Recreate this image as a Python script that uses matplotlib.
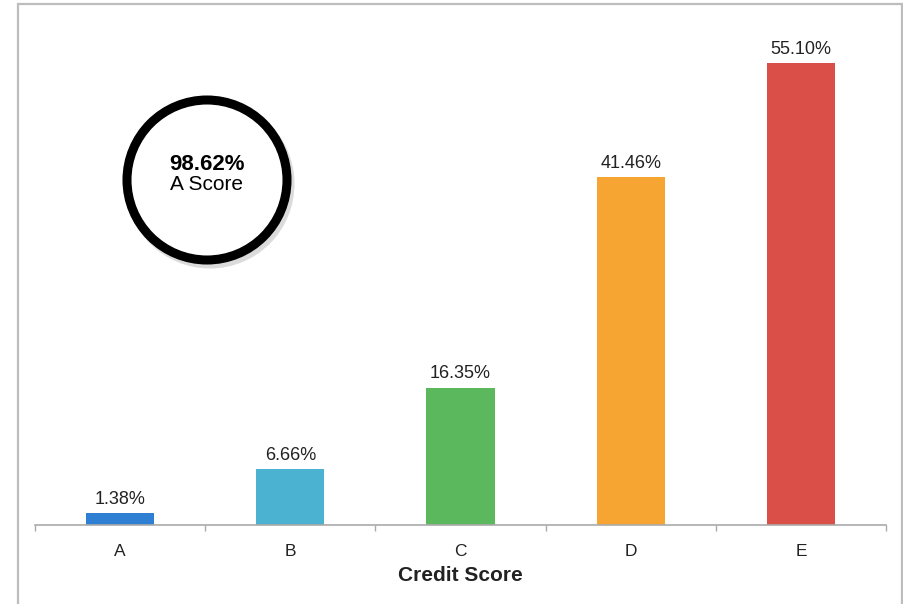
import matplotlib
matplotlib.use("Agg")
import matplotlib.pyplot as plt
from matplotlib.patches import Circle, Rectangle

plt.rcParams["font.family"] = ["Liberation Sans", "DejaVu Sans"]

grades = ["A", "B", "C", "D", "E"]
default_rate = [1.38, 6.66, 16.35, 41.46, 55.10]
bar_colors = ["#2f7fd2", "#4bb2d2", "#5cb85c", "#f6a532", "#db4f49"]
highlight_value = "98.62%"
highlight_label = "A Score"

fig = plt.figure(figsize=(9.04, 6.04), dpi=100)
ax = fig.add_axes([35 / 904, 79 / 604, 851 / 904, 503 / 604])

x = range(len(grades))
bars = ax.bar(x, default_rate, width=0.4, color=bar_colors)
for b, v in zip(bars, default_rate):
    ax.annotate(f"{v:.2f}%", (b.get_x() + b.get_width() / 2, v), xytext=(0, 4),
                textcoords="offset points", ha="center", va="bottom", fontsize=13, color="#222")

ax.set_xlim(-0.5, len(grades) - 0.5)
ax.set_ylim(0, 60)
ax.set_xticks(list(x))
ax.set_xticklabels(grades, fontsize=12.5, color="#222")
ax.set_xticks([i - 0.5 for i in range(len(grades) + 1)], minor=True)
ax.tick_params(axis="x", which="major", length=0, pad=14)
ax.tick_params(axis="x", which="minor", length=4, width=1, color="#aaa")
ax.set_yticks([])
for s in ("top", "right", "left"):
    ax.spines[s].set_visible(False)
ax.spines["bottom"].set_color("#aaa")
ax.spines["bottom"].set_linewidth(1.2)
ax.set_xlabel("Credit Score", fontsize=15, fontweight="bold", color="#222", labelpad=5)

# outer frame (open at the bottom edge)
fig.add_artist(Rectangle((18 / 904, -0.02), 884 / 904, 1.02 - 4 / 604, transform=fig.transFigure,
                         fill=False, edgecolor="#bdbdbd", linewidth=1.6))

# score badge
cx, cy, r = 2.07, 4.24, 0.80
fig.add_artist(Circle((cx + 0.03, cy - 0.04), r, transform=fig.dpi_scale_trans,
                      fill=False, edgecolor="#999", linewidth=6.5, alpha=0.35))
fig.add_artist(Circle((cx, cy), r, transform=fig.dpi_scale_trans,
                      facecolor="white", edgecolor="black", linewidth=6.5))
fig.text(207 / 904, 1 - 165 / 604, highlight_value, ha="center", va="center",
         fontsize=16, fontweight="bold")
fig.text(207 / 904, 1 - 185 / 604, highlight_label, ha="center", va="center", fontsize=15)

fig.savefig("out.png", dpi=100)
